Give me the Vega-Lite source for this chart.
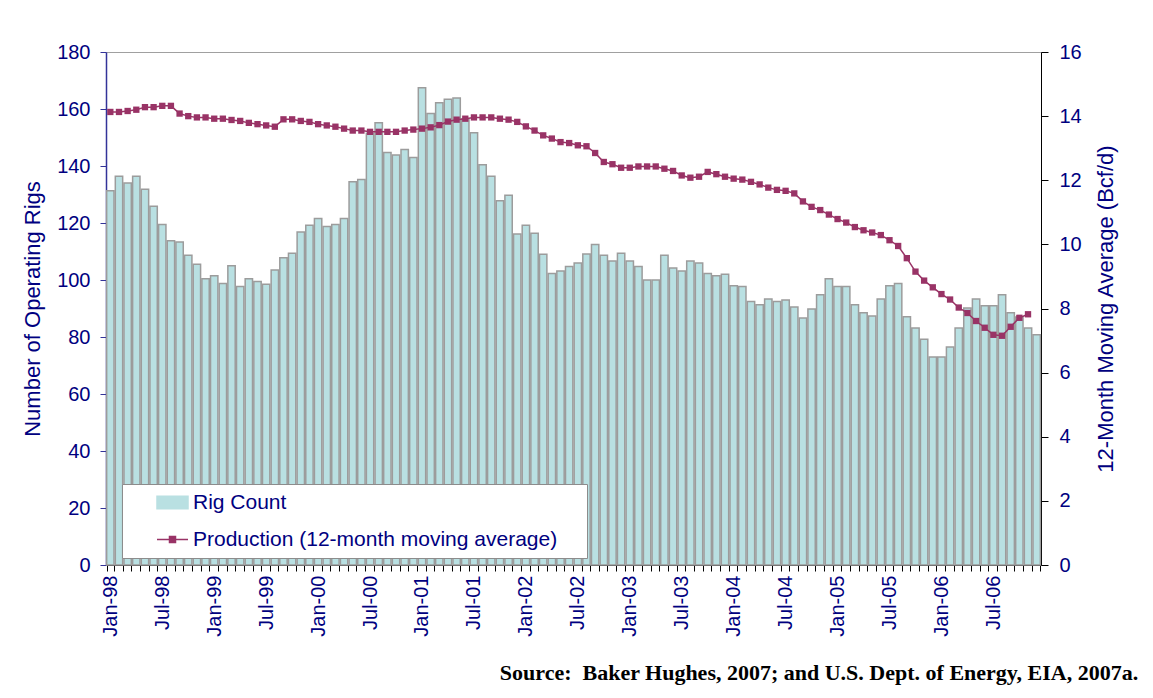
{
  "$schema": "https://vega.github.io/schema/vega-lite/v6.json",
  "width": 935,
  "height": 513,
  "autosize": {"type": "none"},
  "padding": {"left": 106, "top": 52, "right": 112, "bottom": 133},
  "background": "white",
  "config": {
    "font": "Liberation Sans",
    "view": {"stroke": "#A0A0A0", "strokeWidth": 1},
    "axis": {"labelFont": "Liberation Sans", "titleFont": "Liberation Sans", "labelColor": "#000080", "titleColor": "#000080", "labelFontSize": 20, "titleFontSize": 22, "titleFontWeight": "normal", "grid": false},
    "legend": {"orient": "none", "legendX": 16, "legendY": 432, "padding": 8, "fillColor": "white", "strokeColor": "#8C8C8C", "labelFontSize": 21, "labelColor": "#000080", "labelFont": "Liberation Sans", "symbolSize": 100, "symbolOffset": 32, "labelOffset": 10, "rowPadding": 15, "labelLimit": 700}
  },
  "title": {"text": "Source:\u00a0 Baker Hughes, 2007; and U.S. Dept. of Energy, EIA, 2007a.", "orient": "bottom", "anchor": "end", "font": "Liberation Serif", "fontSize": 22, "fontWeight": "bold", "color": "black", "offset": 27, "dx": 22},
  "data": {"values": [
    {"m":"Jan-98","rigs":131.3,"prod":14.13},{"m":"Feb-98","rigs":136.4,"prod":14.13},{"m":"Mar-98","rigs":134.0,"prod":14.16},{"m":"Apr-98","rigs":136.4,"prod":14.20},{"m":"May-98","rigs":131.8,"prod":14.28},{"m":"Jun-98","rigs":125.9,"prod":14.28},{"m":"Jul-98","rigs":119.5,"prod":14.32},{"m":"Aug-98","rigs":113.8,"prod":14.32},{"m":"Sep-98","rigs":113.3,"prod":14.08},{"m":"Oct-98","rigs":108.7,"prod":14.00},{"m":"Nov-98","rigs":105.5,"prod":13.96},{"m":"Dec-98","rigs":100.4,"prod":13.96},
    {"m":"Jan-99","rigs":101.5,"prod":13.92},{"m":"Feb-99","rigs":98.8,"prod":13.92},{"m":"Mar-99","rigs":105.0,"prod":13.88},{"m":"Apr-99","rigs":97.7,"prod":13.85},{"m":"May-99","rigs":100.4,"prod":13.79},{"m":"Jun-99","rigs":99.5,"prod":13.75},{"m":"Jul-99","rigs":98.5,"prod":13.71},{"m":"Aug-99","rigs":103.5,"prod":13.67},{"m":"Sep-99","rigs":107.8,"prod":13.90},{"m":"Oct-99","rigs":109.4,"prod":13.90},{"m":"Nov-99","rigs":116.8,"prod":13.85},{"m":"Dec-99","rigs":119.2,"prod":13.82},
    {"m":"Jan-00","rigs":121.6,"prod":13.75},{"m":"Feb-00","rigs":118.8,"prod":13.71},{"m":"Mar-00","rigs":119.5,"prod":13.67},{"m":"Apr-00","rigs":121.6,"prod":13.61},{"m":"May-00","rigs":134.5,"prod":13.55},{"m":"Jun-00","rigs":135.3,"prod":13.55},{"m":"Jul-00","rigs":151.5,"prod":13.51},{"m":"Aug-00","rigs":155.2,"prod":13.51},{"m":"Sep-00","rigs":144.7,"prod":13.51},{"m":"Oct-00","rigs":143.9,"prod":13.51},{"m":"Nov-00","rigs":145.8,"prod":13.55},{"m":"Dec-00","rigs":143.0,"prod":13.58},
    {"m":"Jan-01","rigs":167.5,"prod":13.61},{"m":"Feb-01","rigs":158.4,"prod":13.65},{"m":"Mar-01","rigs":162.2,"prod":13.72},{"m":"Apr-01","rigs":163.4,"prod":13.83},{"m":"May-01","rigs":163.9,"prod":13.89},{"m":"Jun-01","rigs":156.5,"prod":13.92},{"m":"Jul-01","rigs":151.7,"prod":13.96},{"m":"Aug-01","rigs":140.4,"prod":13.96},{"m":"Sep-01","rigs":136.4,"prod":13.96},{"m":"Oct-01","rigs":127.8,"prod":13.92},{"m":"Nov-01","rigs":129.7,"prod":13.89},{"m":"Dec-01","rigs":116.1,"prod":13.82},
    {"m":"Jan-02","rigs":119.2,"prod":13.68},{"m":"Feb-02","rigs":116.4,"prod":13.55},{"m":"Mar-02","rigs":109.0,"prod":13.40},{"m":"Apr-02","rigs":102.3,"prod":13.30},{"m":"May-02","rigs":103.2,"prod":13.19},{"m":"Jun-02","rigs":104.7,"prod":13.16},{"m":"Jul-02","rigs":106.0,"prod":13.09},{"m":"Aug-02","rigs":109.1,"prod":13.06},{"m":"Sep-02","rigs":112.5,"prod":12.85},{"m":"Oct-02","rigs":108.7,"prod":12.57},{"m":"Nov-02","rigs":106.7,"prod":12.50},{"m":"Dec-02","rigs":109.4,"prod":12.39},
    {"m":"Jan-03","rigs":106.7,"prod":12.39},{"m":"Feb-03","rigs":104.7,"prod":12.43},{"m":"Mar-03","rigs":100.0,"prod":12.43},{"m":"Apr-03","rigs":100.0,"prod":12.43},{"m":"May-03","rigs":108.7,"prod":12.36},{"m":"Jun-03","rigs":104.2,"prod":12.29},{"m":"Jul-03","rigs":103.2,"prod":12.15},{"m":"Aug-03","rigs":106.7,"prod":12.08},{"m":"Sep-03","rigs":106.0,"prod":12.11},{"m":"Oct-03","rigs":102.3,"prod":12.26},{"m":"Nov-03","rigs":101.5,"prod":12.19},{"m":"Dec-03","rigs":102.0,"prod":12.11},
    {"m":"Jan-04","rigs":98.0,"prod":12.05},{"m":"Feb-04","rigs":97.7,"prod":12.02},{"m":"Mar-04","rigs":92.5,"prod":11.95},{"m":"Apr-04","rigs":91.3,"prod":11.87},{"m":"May-04","rigs":93.3,"prod":11.77},{"m":"Jun-04","rigs":92.5,"prod":11.70},{"m":"Jul-04","rigs":93.0,"prod":11.67},{"m":"Aug-04","rigs":90.5,"prod":11.59},{"m":"Sep-04","rigs":86.7,"prod":11.34},{"m":"Oct-04","rigs":89.8,"prod":11.17},{"m":"Nov-04","rigs":94.8,"prod":11.07},{"m":"Dec-04","rigs":100.4,"prod":10.93},
    {"m":"Jan-05","rigs":97.7,"prod":10.79},{"m":"Feb-05","rigs":97.7,"prod":10.68},{"m":"Mar-05","rigs":91.3,"prod":10.54},{"m":"Apr-05","rigs":88.5,"prod":10.44},{"m":"May-05","rigs":87.4,"prod":10.37},{"m":"Jun-05","rigs":93.3,"prod":10.29},{"m":"Jul-05","rigs":98.0,"prod":10.13},{"m":"Aug-05","rigs":98.8,"prod":9.95},{"m":"Sep-05","rigs":87.1,"prod":9.57},{"m":"Oct-05","rigs":83.2,"prod":9.15},{"m":"Nov-05","rigs":79.2,"prod":8.87},{"m":"Dec-05","rigs":73.0,"prod":8.66},
    {"m":"Jan-06","rigs":73.0,"prod":8.45},{"m":"Feb-06","rigs":76.5,"prod":8.28},{"m":"Mar-06","rigs":83.2,"prod":8.03},{"m":"Apr-06","rigs":90.2,"prod":7.86},{"m":"May-06","rigs":93.3,"prod":7.61},{"m":"Jun-06","rigs":91.0,"prod":7.40},{"m":"Jul-06","rigs":91.0,"prod":7.18},{"m":"Aug-06","rigs":94.8,"prod":7.15},{"m":"Sep-06","rigs":88.5,"prod":7.43},{"m":"Oct-06","rigs":87.0,"prod":7.71},{"m":"Nov-06","rigs":83.2,"prod":7.82},{"m":"Dec-06","rigs":80.8,"prod":null}
  ]},
  "encoding": {
    "x": {"field": "m", "type": "ordinal", "sort": null,
      "scale": {"paddingInner": 0.15, "paddingOuter": 0.075},
      "axis": {"title": null, "labelAngle": 270, "labelOverlap": false, "labelExpr": "(indexof(datum.label,'Jan')===0 || indexof(datum.label,'Jul')===0) ? datum.label : ''", "tickBand": "extent", "tickColor": "black", "domainColor": "black", "tickSize": 6, "labelPadding": 4}}
  },
  "layer": [
    {
      "mark": {"type": "bar", "stroke": "#9C9C9C", "strokeWidth": 1.5},
      "encoding": {
        "y": {"field": "rigs", "type": "quantitative", "scale": {"domain": [0, 180]},
          "axis": {"orient": "left", "title": "Number of Operating Rigs", "values": [0,20,40,60,80,100,120,140,160,180], "domainColor": "#333399", "tickColor": "#333399", "domainWidth": 1.5, "tickSize": 6, "labelPadding": 10, "titlePadding": 12}},
        "color": {"datum": "Rig Count",
          "scale": {"domain": ["Rig Count", "Production (12-month moving average)"], "range": ["#B9E0E2", "#993366"]},
          "legend": {"title": null,
            "labelExpr": "datum.label + '\u00a0\u2800'",
            "encode": {"symbols": {"update": {
              "shape": {"signal": "datum.value === 'Rig Count' ? 'M-3.1,-1.25H3.1V1.25H-3.1Z' : 'M-3.1,0H3.1M-0.6,-0.6H0.6V0.6H-0.6Z'"},
              "fill": {"signal": "datum.value === 'Rig Count' ? '#B9E0E2' : '#993366'"},
              "stroke": {"signal": "datum.value === 'Rig Count' ? '#9C9C9C' : '#993366'"},
              "strokeWidth": {"value": 1.5},
              "opacity": {"value": 1}}}}}}
      }
    },
    {
      "mark": {"type": "line", "strokeWidth": 1.5, "point": {"shape": "square", "size": 40, "filled": true}},
      "encoding": {
        "y": {"field": "prod", "type": "quantitative", "scale": {"domain": [0, 16]},
          "axis": {"orient": "right", "title": "12-Month Moving Average (Bcf/d)", "values": [0,2,4,6,8,10,12,14,16], "domainColor": "black", "tickColor": "black", "tickSize": 7, "labelPadding": 11, "titlePadding": 14, "titleAngle": 270, "titleBaseline": "top"}},
        "color": {"datum": "Production (12-month moving average)",
          "legend": {"title": null,
            "labelExpr": "datum.label + '\u00a0\u2800'",
            "encode": {"symbols": {"update": {
              "shape": {"signal": "datum.value === 'Rig Count' ? 'M-3.1,-1.25H3.1V1.25H-3.1Z' : 'M-3.1,0H3.1M-0.6,-0.6H0.6V0.6H-0.6Z'"},
              "fill": {"signal": "datum.value === 'Rig Count' ? '#B9E0E2' : '#993366'"},
              "stroke": {"signal": "datum.value === 'Rig Count' ? '#9C9C9C' : '#993366'"},
              "strokeWidth": {"value": 1.5},
              "opacity": {"value": 1}}}}}}
      }
    }
  ],
  "resolve": {"scale": {"y": "independent"}, "axis": {"y": "independent"}}
}
